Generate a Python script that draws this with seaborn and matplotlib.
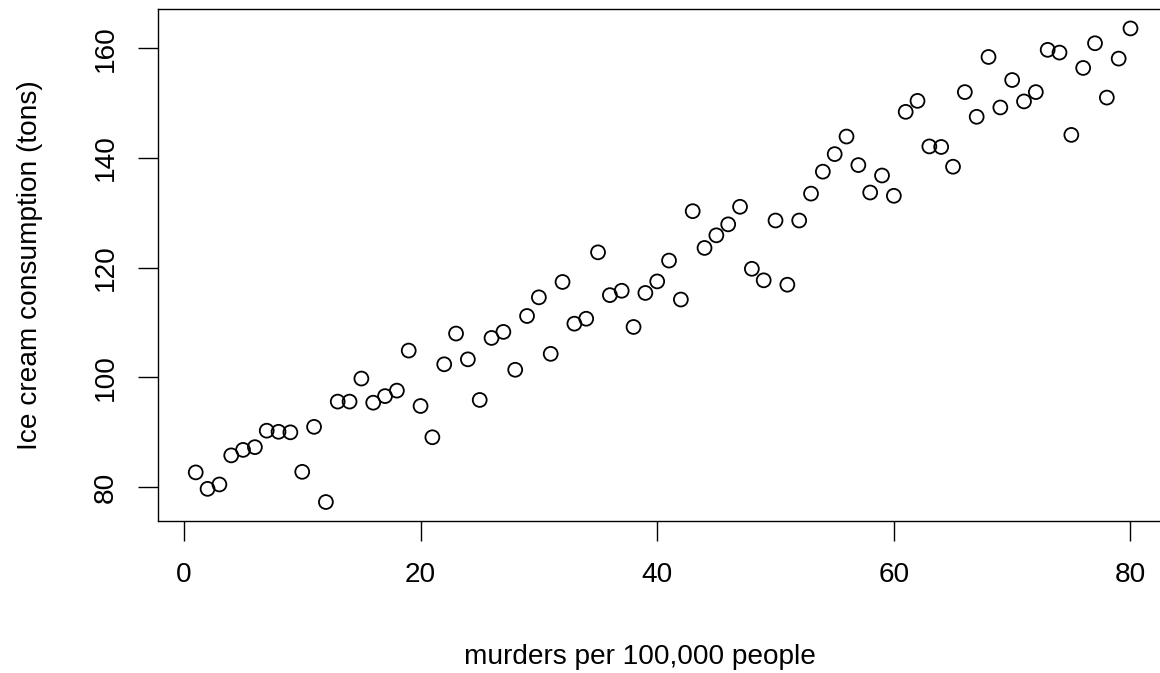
#!/usr/bin/env python3
"""
Ice cream consumption vs murders per 100,000 people, base-R look-alike scatter.

Output: out.png
"""

import matplotlib
matplotlib.use("Agg")
import matplotlib.pyplot as plt
import pandas as pd
import seaborn as sns

# ---------------------------------------------------------------------------
# Data
# ---------------------------------------------------------------------------

murders = list(range(1, 81))

ice_cream = [
    82.7, 79.7, 80.5, 85.8, 86.8, 87.3, 90.3, 90.1, 90.0, 82.8,
    91.0, 77.3, 95.6, 95.6, 99.8, 95.4, 96.6, 97.6, 104.9, 94.8,
    89.1, 102.4, 108.0, 103.3, 95.9, 107.2, 108.3, 101.4, 111.2, 114.6,
    104.3, 117.4, 109.8, 110.7, 122.8, 115.0, 115.8, 109.2, 115.4, 117.5,
    121.3, 114.2, 130.3, 123.6, 125.9, 127.9, 131.1, 119.8, 117.7, 128.6,
    116.9, 128.6, 133.5, 137.5, 140.7, 143.9, 138.7, 133.7, 136.8, 133.1,
    148.4, 150.4, 142.1, 142.0, 138.4, 152.0, 147.5, 158.4, 149.2, 154.2,
    150.3, 152.0, 159.7, 159.2, 144.2, 156.4, 160.9, 151.0, 158.1, 163.6,
]

x_ticks = [0, 20, 40, 60, 80]
y_ticks = [80, 100, 120, 140, 160]

df = pd.DataFrame({"murders": murders, "ice_cream": ice_cream})

# ---------------------------------------------------------------------------
# Style
# ---------------------------------------------------------------------------

sns.set_style("white")
plt.rcParams["font.family"] = ["Liberation Sans", "DejaVu Sans"]
FS = 20.2

# R pads the data range by 4% on each side
def r_range(vals):
    lo, hi = min(vals), max(vals)
    pad = (hi - lo) * 0.04
    return lo - pad, hi + pad

# ---------------------------------------------------------------------------
# Plot
# ---------------------------------------------------------------------------

fig = plt.figure(figsize=(11.6, 6.73), dpi=100)
# right edge runs a little past the figure, as in the reference
ax = fig.add_axes([0.1365, 0.2259, 0.8703, 0.760])

sns.scatterplot(data=df, x="murders", y="ice_cream", ax=ax,
                marker="o", s=100, color="black", linewidth=1.3)
ax.collections[0].set_facecolor("none")
ax.collections[0].set_edgecolor("black")

ax.set_xlim(*r_range(murders))
ax.set_ylim(*r_range(ice_cream))
ax.set_xticks(x_ticks)
ax.set_yticks(y_ticks)

for side in ["left", "bottom", "top", "right"]:
    ax.spines[side].set_visible(True)
    ax.spines[side].set_color("black")
    ax.spines[side].set_linewidth(1.0)

ax.tick_params(axis="both", direction="out", length=14.4, width=1.0,
               color="black", labelsize=FS, labelcolor="black",
               bottom=True, left=True)
ax.tick_params(axis="x", pad=15)
ax.tick_params(axis="y", pad=14, labelrotation=90)
for lab in ax.get_yticklabels():
    lab.set_va("center")

ax.set_xlabel("murders per 100,000 people", fontsize=FS, color="black", va="center")
ax.set_ylabel("Ice cream consumption (tons)", fontsize=FS, color="black", va="center")
ax.xaxis.set_label_coords(0.477, -0.266)
ax.yaxis.set_label_coords(-0.127, 0.5)

fig.savefig("out.png", dpi=100, facecolor="white")
plt.close(fig)
